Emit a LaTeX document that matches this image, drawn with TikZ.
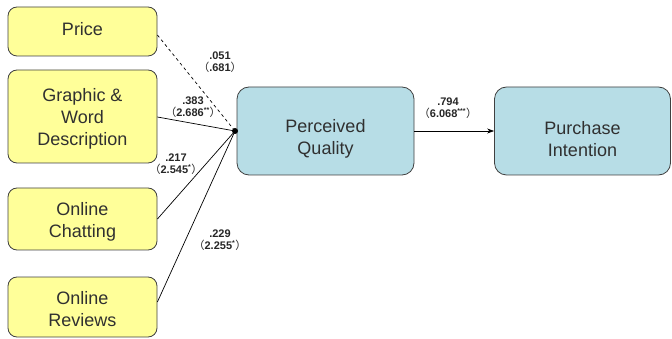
\documentclass[tikz,border=0pt]{standalone}
\usepackage{fontspec}
\setmainfont{Liberation Sans}
\newfontfamily\cjk{Noto Sans CJK SC}
\usetikzlibrary{arrows.meta}
\definecolor{boxyellow}{HTML}{FFFF99}
\definecolor{boxteal}{HTML}{B7DDE6}
\definecolor{edgegray}{HTML}{404040}
\definecolor{txtgray}{HTML}{303030}
\tikzset{
  ybox/.style={draw=edgegray, line width=0.8pt, fill=boxyellow, rounded corners=9pt, inner sep=0pt},
  tbox/.style={draw=edgegray, line width=0.8pt, fill=boxteal, rounded corners=12pt, inner sep=0pt},
  btext/.style={align=center, font=\fontsize{18}{22}\selectfont, inner sep=0pt, text=txtgray},
  coef/.style={font=\bfseries\fontsize{11}{14}\selectfont, align=center, inner sep=0pt, text=black!85},
  link/.style={line width=0.7pt, black},
}
\newcommand{\st}[1]{\textsuperscript{\fontsize{7}{7}\selectfont #1}}
\newcommand{\lp}{{\cjk\mdseries （}}
\newcommand{\rp}{{\cjk\mdseries ）}}
\begin{document}
\begin{tikzpicture}[x=1pt,y=-1pt]
\useasboundingbox (0,0) rectangle (672,339);
\node[ybox, minimum width=149pt, minimum height=49pt] (price) at (82.5,31.5) {};
\node[ybox, minimum width=149pt, minimum height=93pt] (graphic) at (82.5,116.5) {};
\node[ybox, minimum width=149pt, minimum height=62pt] (chat) at (82.5,219) {};
\node[ybox, minimum width=149pt, minimum height=60pt] (rev) at (82.5,307) {};
\node[tbox, minimum width=177pt, minimum height=88pt] (pq) at (325.5,131) {};
\node[tbox, minimum width=176pt, minimum height=88pt] (pi) at (582.5,131) {};
\node[btext] (tprice) at (82.5,29) {Price};
\node[btext] (tgraphic) at (82.5,119) {Graphic \&\\Word\\Description};
\node[btext] (tchat) at (82.5,222) {Online\\Chatting};
\node[btext] (trev) at (82.5,309) {Online\\Reviews};
\node[btext] (tpq) at (325.5,139) {Perceived\\Quality};
\node[btext] (tpi) at (582.5,139) {Purchase\\Intention};
\coordinate (dot) at (235,131);
\fill (dot) circle (3pt);
\draw[link, dashed] (price.east |- 0,35) -- (dot);
\draw[link] (graphic.east |- 0,117) -- (dot);
\draw[link] (chat.east |- 0,219) -- (dot);
\draw[link] (rev.east |- 0,302) -- (dot);
\draw[link, -{Stealth[length=7pt,width=5pt]}] (pq.east) -- (pi.west);
\node[coef] (c1) at (220,62) {.051\\[-2pt]\lp.681\rp};
\node[coef] (c2) at (193,107) {.383\\[-2pt]\lp2.686\st{**}\rp};
\node[coef] (c3) at (176,164) {.217\\[-2pt]\lp2.545\st{*}\rp};
\node[coef] (c4) at (220,240) {.229\\[-2pt]\lp2.255\st{*}\rp};
\node[coef] (c5) at (448,108) {.794\\[-2pt]\lp6.068\st{***}\rp};
\end{tikzpicture}
\end{document}
